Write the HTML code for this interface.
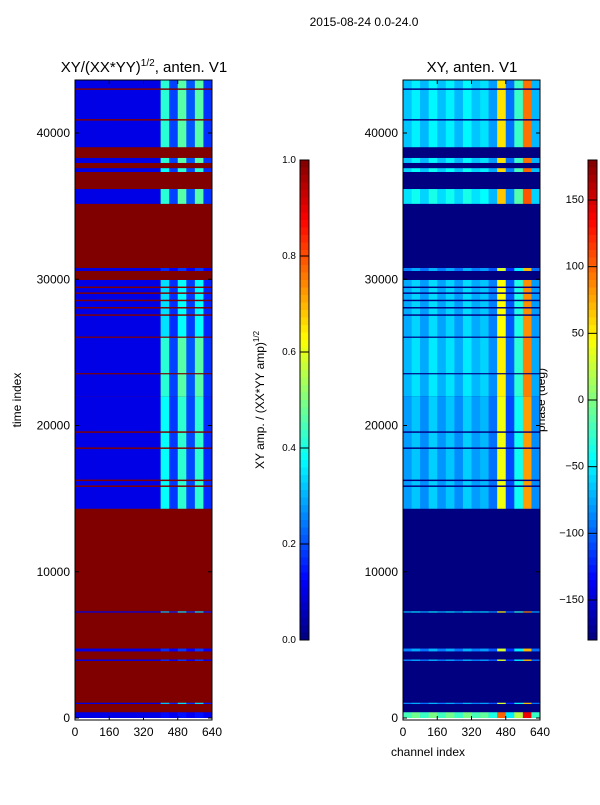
<!DOCTYPE html>
<html><head><meta charset="utf-8"><style>
body{margin:0;background:#fff;width:600px;height:800px;overflow:hidden;font-family:"Liberation Sans",sans-serif}
svg text{font-family:"Liberation Sans",sans-serif;fill:#000}
</style></head><body>
<svg id="s" width="600" height="800" xmlns="http://www.w3.org/2000/svg">
<text x="364" y="26" font-size="12" text-anchor="middle">2015-08-24 0.0-24.0</text>
<text x="144" y="72" font-size="15" text-anchor="middle">XY/(XX*YY)<tspan font-size="10" dy="-6">1/2</tspan><tspan dy="6">, anten. V1</tspan></text>
<text x="472" y="72" font-size="15" text-anchor="middle">XY, anten. V1</text>
<text transform="translate(21,400) rotate(-90)" font-size="12" text-anchor="middle">time index</text>
<text x="428" y="756" font-size="12" text-anchor="middle">channel index</text>
<text transform="translate(264,400) rotate(-90)" font-size="12" text-anchor="middle">XY amp. / (XX*YY amp)<tspan font-size="8" dy="-5">1/2</tspan></text>
<text transform="translate(545,400) rotate(-90)" font-size="12" text-anchor="middle">phase (deg)</text>
<g id="L"></g>
<g id="R"></g>
<g id="ax"></g>
</svg>
<script>
// data
const flagBands=[[400,950],[1050,3900],[4000,4550],[4750,7200],[7300,14300],[15800,15900],[16200,16300],[18400,18500],[19500,19600],[23500,23580],[26000,26080],[27500,27600],[28000,28100],[28500,28600],[29000,29100],[29400,29500],[29950,30560],[30770,35150],[36170,37330],[37600,37950],[38300,39020],[40850,40950],[42950,43050]];
const okBands=[[0,400],[950,1050],[3900,4000],[4550,4750],[7200,7300],[14300,22000],[22000,26000],[26000,30000],[30560,30770],[35150,36170],[37330,37600],[37950,38300],[39020,43624]];
const ampCols=[0.1,0.1,0.1,0.1,0.1,0.1,0.1,0.1,0.1,0.1,0.45,0.2,0.5,0.22,0.5,0.18];
const ampBandScale=[0.1,0.6,0.2,0.2,0.6,0.8,0.9,0.7,0.2,0.9,0.8,0.9,0.9];
const phaseCols=[-80,-65,-85,-62,-82,-65,-85,-62,-80,-70,-95,40,-110,-40,80,-85];
const phaseBandOffset=[60,-10,-10,-10,10,0,10,5,-10,25,20,15,15];
const tmax=43624, cmax=640;
const L={x0:75,x1:212}, R={x0:403,x1:540}, y0=718, yTop=80;
function ty(t){return y0-(t/tmax)*(y0-yTop);}
function cx(p,c){return p.x0+(c/cmax)*(p.x1-p.x0);}
function jet(v){v=Math.max(0,Math.min(1,v));
 const r=Math.max(0,Math.min(1,1.5-Math.abs(4*v-3))),g=Math.max(0,Math.min(1,1.5-Math.abs(4*v-2))),b=Math.max(0,Math.min(1,1.5-Math.abs(4*v-1)));
 return `rgb(${Math.round(r*255)},${Math.round(g*255)},${Math.round(b*255)})`;}
const NS="http://www.w3.org/2000/svg";
function rect(g,x,y,w,h,f){const r=document.createElementNS(NS,'rect');r.setAttribute('x',x);r.setAttribute('y',y);r.setAttribute('width',w);r.setAttribute('height',h);r.setAttribute('fill',f);
 
 
 g.appendChild(r);return r;}
const gL=document.getElementById('L'),gR=document.getElementById('R');
rect(gL,L.x0,yTop,L.x1-L.x0,y0-yTop,jet(1));
rect(gR,R.x0,yTop,R.x1-R.x0,y0-yTop,jet(0));
okBands.forEach((b,i)=>{
 const ya=ty(b[1]),h=ty(b[0])-ya;
 const nA=ampCols.length;
 ampCols.forEach((a,j)=>{
  const c0=j*cmax/nA,c1=(j+1)*cmax/nA;
  const v=a<=0.1?a:0.1+(a-0.1)*ampBandScale[i];
  rect(gL,cx(L,c0),ya,cx(L,c1)-cx(L,c0)+0.3,h,jet(v));
 });
 const nP=phaseCols.length;
 phaseCols.forEach((p,j)=>{
  const c0=j*cmax/nP,c1=(j+1)*cmax/nP;
  rect(gR,cx(R,c0),ya,cx(R,c1)-cx(R,c0)+0.3,h,jet((p+phaseBandOffset[i]+180)/360));
 });
});
flagBands.forEach(b=>{
 const ya=ty(b[1]),h=Math.max(1,ty(b[0])-ya);
 rect(gL,L.x0,ya,L.x1-L.x0,h,jet(1));
 rect(gR,R.x0,ya,R.x1-R.x0,h,jet(0));
});
const ax=document.getElementById('ax');
const yTicks=[0,10000,20000,30000,40000], xTicks=[0,160,320,480,640];
function line(x1,y1,x2,y2){const l=document.createElementNS(NS,'line');l.setAttribute('x1',x1);l.setAttribute('y1',y1);l.setAttribute('x2',x2);l.setAttribute('y2',y2);l.setAttribute('stroke','#000');
 
 
 ax.appendChild(l);}
function txt(x,y,s,anc){const t=document.createElementNS(NS,'text');t.setAttribute('x',x);t.setAttribute('y',y);t.setAttribute('font-size','12');t.setAttribute('text-anchor',anc);t.textContent=s;
 
 
 ax.appendChild(t);}
[L,R].forEach(p=>{
 const f=document.createElementNS(NS,'rect');f.setAttribute('x',p.x0);f.setAttribute('y',yTop);f.setAttribute('width',p.x1-p.x0);f.setAttribute('height',y0-yTop+2);f.setAttribute('fill','none');f.setAttribute('stroke','#000');
 
 
 ax.appendChild(f);
 yTicks.forEach(t=>{const y=ty(t);line(p.x0,y,p.x0+4,y);line(p.x1,y,p.x1-4,y);txt(p.x0-5,y+4,String(t),'end');});
 xTicks.forEach(c=>{const x=cx(p,c);line(x,y0+2,x,y0-2);line(x,yTop,x,yTop+4);txt(x,y0+18,String(c),'middle');});
});
function cbar(x,vmin,vmax,ticks,fmt){
 const yT=160,yB=640,n=64;
 for(let i=0;i<n;i++){const r=rect(ax,x,yT+(yB-yT)*i/n,9,(yB-yT)/n+0.5,jet(1-(i+0.5)/n));
  }
 const f=document.createElementNS(NS,'rect');f.setAttribute('x',x);f.setAttribute('y',yT);f.setAttribute('width',9);f.setAttribute('height',yB-yT);f.setAttribute('fill','none');f.setAttribute('stroke','#000');
 
 
 ax.appendChild(f);
 ticks.forEach(v=>{const y=yB-(v-vmin)/(vmax-vmin)*(yB-yT);line(x,y,x+9,y);
  const t=document.createElementNS(NS,'text');t.setAttribute('x',x-4);t.setAttribute('y',y+3);t.setAttribute('font-size',fmt?'10':'11');t.setAttribute('text-anchor','end');t.textContent=fmt?v.toFixed(1):(v<0?'\u2212'+(-v):String(v));
  
  
  ax.appendChild(t);});
}
const ampTicks=[0,0.2,0.4,0.6,0.8,1.0], phaseTicks=[-150,-100,-50,0,50,100,150];
cbar(300,0,1,ampTicks,true);
cbar(588,-180,180,phaseTicks,false);
</script>
</body></html>
